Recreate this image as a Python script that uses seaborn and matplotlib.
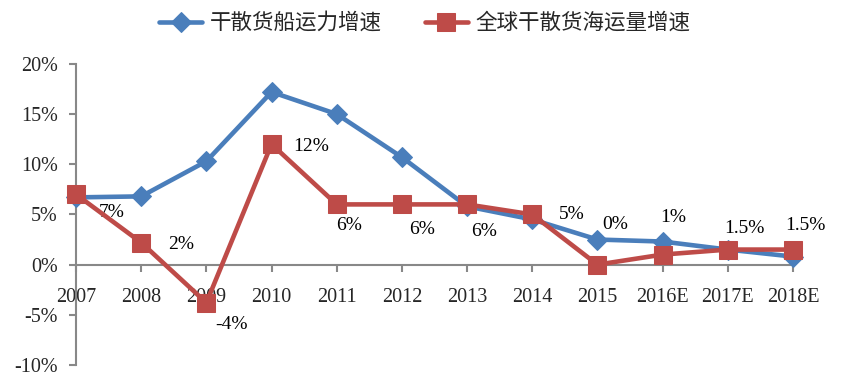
import pandas as pd
import seaborn as sns
import matplotlib.pyplot as plt
from matplotlib.ticker import FuncFormatter, MultipleLocator

# data (percent)
years = ['2007', '2008', '2009', '2010', '2011', '2012', '2013', '2014', '2015', '2016E', '2017E', '2018E']
fleet_growth = [6.7, 6.8, 10.3, 17.2, 15.0, 10.7, 5.8, 4.5, 2.5, 2.3, 1.5, 0.8]
trade_growth = [7, 2.2, -3.8, 12, 6, 6, 6, 5, 0, 1, 1.5, 1.5]
trade_labels = ['7%', '2%', '-4%', '12%', '6%', '6%', '6%', '5%', '0%', '1%', '1.5%', '1.5%']
fleet_name = '干散货船运力增速'
trade_name = '全球干散货海运量增速'

sns.set_theme(style='white')
plt.rcParams['font.family'] = ['Liberation Serif', 'Noto Sans CJK SC', 'DejaVu Sans']

df = pd.DataFrame({'year': years, fleet_name: fleet_growth, trade_name: trade_growth})

fig = plt.figure(figsize=(8.58, 3.85), dpi=100)
ax = fig.add_axes([0.0886, 0.052, 0.8356, 0.782])

blue = '#4A7EBB'
red = '#BE4B48'
sns.lineplot(data=df, x='year', y=fleet_name, sort=False, color=blue, lw=3.3,
             marker='D', markersize=10, markeredgecolor=blue, label=fleet_name, ax=ax, zorder=3)
sns.lineplot(data=df, x='year', y=trade_name, sort=False, color=red, lw=3.3,
             marker='s', markersize=13, markeredgecolor=red, label=trade_name, ax=ax, zorder=4)
for ln in ax.lines:
    ln.set_clip_on(False)

# data labels for the trade series (pixel offsets from each point)
offsets = [(36, -18), (40, -2), (25, -22), (40, -2), (12, -21), (20, -25),
           (17, -27), (39, 0), (18, 40), (11, 37), (17, 21), (12, 24)]
for i, (v, lab) in enumerate(zip(trade_growth, trade_labels)):
    ax.annotate(lab, (i, v), xytext=offsets[i], textcoords='offset pixels',
                ha='center', va='center', fontsize=14, color='black')

ax.set_xlim(0, len(years) - 1)
ax.set_ylim(-10, 20)
ax.yaxis.set_major_locator(MultipleLocator(5))
ax.yaxis.set_major_formatter(FuncFormatter(lambda v, p: f'{v:.0f}%'))
ax.set_xlabel('')
ax.set_ylabel('')

for s in ['top', 'right']:
    ax.spines[s].set_visible(False)
ax.spines['bottom'].set_position(('data', 0))
for s in ['left', 'bottom']:
    ax.spines[s].set_color('#888888')
    ax.spines[s].set_linewidth(1.5)
ax.tick_params(axis='x', direction='out', length=5, width=1.5, color='#888888', pad=12, labelsize=14.5)
ax.tick_params(axis='y', direction='out', length=5, width=1.5, color='#888888', pad=8, labelsize=14.5)
ax.tick_params(axis='x', bottom=True)
ax.tick_params(axis='y', left=True)

ax.get_legend().remove()
handles, labels = ax.get_legend_handles_labels()
fig.legend(handles, labels, loc='center', bbox_to_anchor=(0.495, 0.94), ncol=2, frameon=False,
           handlelength=2.0, handletextpad=0.35, columnspacing=2.0,
           prop={'family': ['Noto Sans CJK SC'], 'size': 15.5})

fig.savefig('out.png', dpi=100)
